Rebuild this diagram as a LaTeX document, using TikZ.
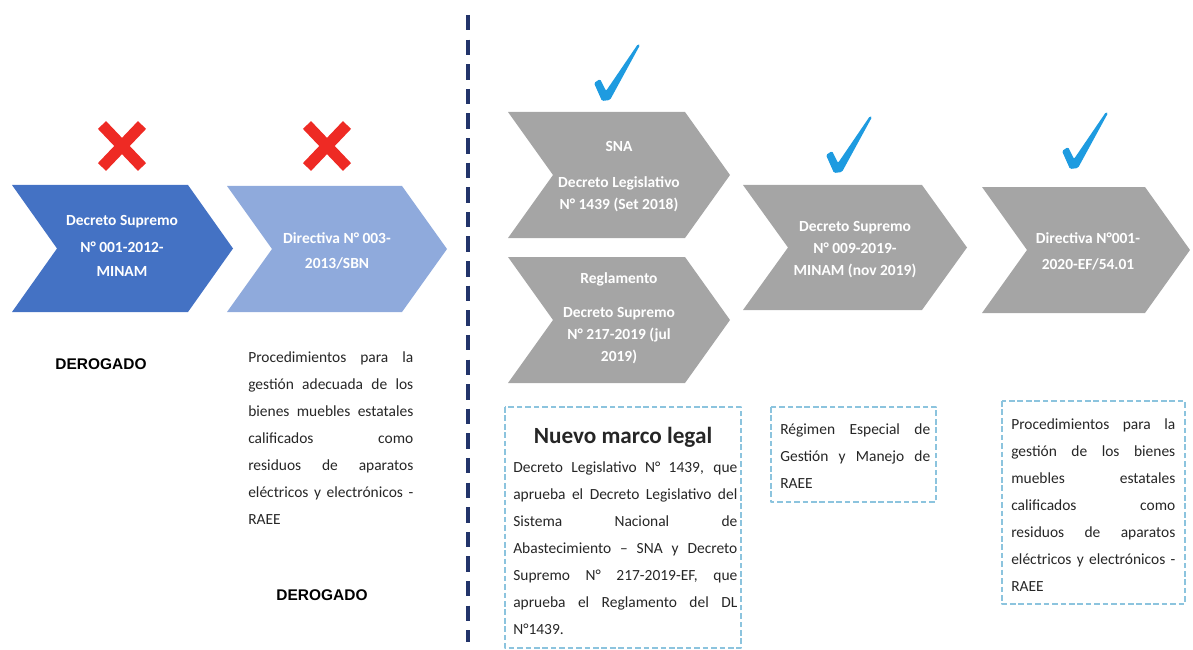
\documentclass[tikz,border=0pt]{standalone}
\usepackage{fontspec}
\setmainfont{Carlito}
\newfontfamily\arialfont{Liberation Sans}
\definecolor{azulosc}{HTML}{4472C4}
\definecolor{azulcla}{HTML}{8FAADC}
\definecolor{gris}{HTML}{A5A5A5}
\definecolor{cajaazul}{HTML}{8CC4DE}
\definecolor{azulcheck}{HTML}{1E9BE0}
\definecolor{rojo}{HTML}{EE2A24}
\definecolor{marino}{HTML}{22346A}
\begin{document}
\begin{tikzpicture}[x=0.025cm, y=-0.025cm, line join=round,
	chevtxt/.style={text=white, font=\bfseries\fontsize{11}{15.6}\selectfont, align=center},
	parrafo/.style={anchor=north west, inner sep=0pt, align=justify, text=black!85, font=\fontsize{11}{19.2}\selectfont},
	caja/.style={draw=cajaazul, line width=0.9pt, dash pattern=on 4pt off 2pt},
	derog/.style={font=\arialfont\bfseries\fontsize{11}{13}\selectfont},
	palomita/.pic={\fill[azulcheck, rounded corners=1] (-3,1) -- (-11,-17) -- (-5,-21) -- (1,-9) -- (33,-56) -- (35,-55) -- (5,0) -- cycle;},
	cruz/.pic={\draw[rojo, line width=8pt] (-20,-21) -- (20,21) (-20,21) -- (20,-21);}]
	\useasboundingbox (0,0) rectangle (1193,650);
	\def\flecha#1#2#3#4#5{\fill[#5] (#1,#2) -- ({#3-45},#2) -- (#3,{(#2+#4)/2}) -- ({#3-45},#4) -- (#1,#4) -- ({#1+45},{(#2+#4)/2}) -- cycle;}
	% izquierda: derogados
	\flecha{12}{185}{233}{312}{azulosc}
	\flecha{227}{186}{447}{312}{azulcla}
	\pic at (122,146) {cruz};
	\pic at (327,146) {cruz};
	\node[chevtxt] (ds2012) at (122,246) {Decreto Supremo\\[3.5pt] N° 001-2012-\\[2pt] MINAM};
	\node[chevtxt] (dir2013) at (337,251) {Directiva N° 003-\\[2.5pt] 2013/SBN};
	\node[derog] (derog1) at (101,364) {DEROGADO};
	\node[parrafo, text width=4.125cm] (proc1) at (248,351) {Procedimientos para la\linebreak gestión adecuada de los\linebreak bienes muebles estatales\linebreak calificados como\linebreak residuos de aparatos\linebreak eléctricos y electrónicos -\linebreak RAEE};
	\node[derog] (derog2) at (322,595) {DEROGADO};
	% separador
	\draw[marino, line width=2.2pt, dash pattern=on 11pt off 6.5pt] (468,15) -- (468,642);
	% derecha: vigentes
	\flecha{508}{112}{730}{238}{gris}
	\flecha{508}{257}{730}{383}{gris}
	\flecha{743}{185}{967}{310}{gris}
	\flecha{982}{187}{1190}{313}{gris}
	\pic at (605,100) {palomita};
	\pic at (837,172) {palomita};
	\pic at (1073,168) {palomita};
	\node[chevtxt] (sna) at (619,177) {SNA\\[10pt] Decreto Legislativo\\ N° 1439 (Set 2018)};
	\node[chevtxt] (regl) at (619,318) {Reglamento\\[9pt] Decreto Supremo\\ N° 217-2019 (jul\\ 2019)};
	\node[chevtxt] (ds2019) at (855,250) {Decreto Supremo\\ N° 009-2019-\\ MINAM (nov 2019)};
	\node[chevtxt] (dir2020) at (1088,251) {Directiva N°001-\\[3pt] 2020-EF/54.01};
	% cuadros
	\draw[caja] (505,407) rectangle (741,648);
	\node[font=\bfseries\fontsize{16.5}{20}\selectfont, text=black!85] (nuevo) at (623,437) {Nuevo marco legal};
	\node[parrafo, text width=5.6cm] (marco) at (513,461) {Decreto Legislativo N° 1439, que\linebreak aprueba el Decreto Legislativo del\linebreak Sistema Nacional de\linebreak Abastecimiento – SNA y Decreto\linebreak Supremo N° 217-2019-EF, que\linebreak aprueba el Reglamento del DL\linebreak N°1439.};
	\draw[caja] (771,407) rectangle (936,502);
	\node[parrafo, text width=3.75cm] (regimen) at (780,423) {Régimen Especial de\linebreak Gestión y Manejo de\linebreak RAEE};
	\draw[caja] (1002,401) rectangle (1185,604);
	\node[parrafo, text width=4.1cm] (proc2) at (1011,418) {Procedimientos para la\linebreak gestión de los bienes\linebreak muebles estatales\linebreak calificados como\linebreak residuos de aparatos\linebreak eléctricos y electrónicos -\linebreak RAEE};
\end{tikzpicture}
\end{document}
